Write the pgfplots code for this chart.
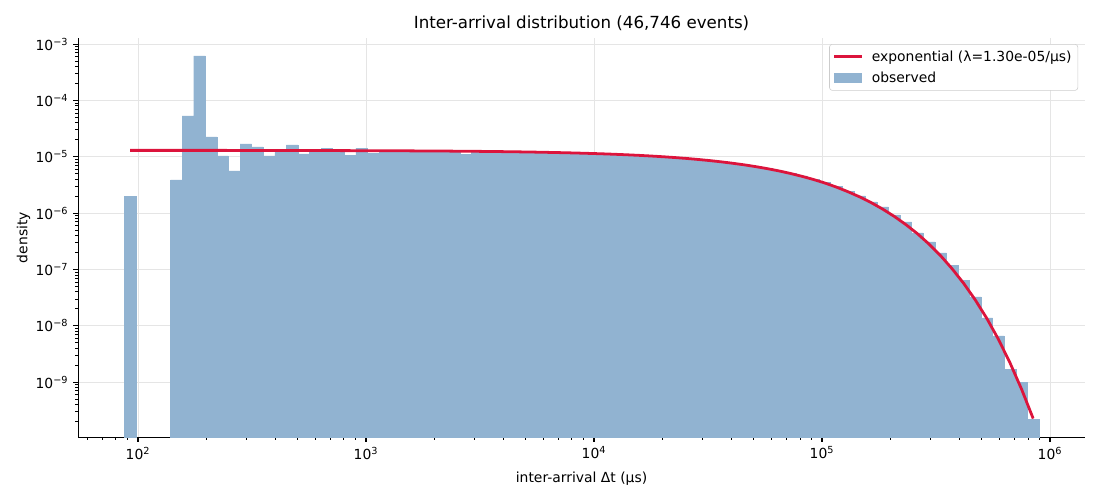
\documentclass[border=0pt]{standalone}
\usepackage{fontspec}
\setmainfont{DejaVu Sans}
\usepackage{pgfplots}
\pgfplotsset{compat=1.18}
\usetikzlibrary{calc}
\definecolor{barcol}{RGB}{145,179,209}
\definecolor{crim}{RGB}{220,20,60}
\begin{document}
\begin{tikzpicture}
\begin{axis}[
 name=ax,
 scale only axis, width=725pt, height=287.3pt,
 xmode=log, ymode=log, log origin=infty,
 xmin=54.6, xmax=1.424e6, ymin=1.06e-10, ymax=1.28e-3,
 axis x line*=bottom, axis y line*=left,
 axis line style={line width=0.8pt, -},
 tick align=outside,
 major tick length=3.5pt, minor tick length=2pt,
 every tick/.style={black, line width=0.8pt},
 minor tick style={line width=0.6pt},
 xtick={100,1000,10000,100000,1000000},
 xticklabels={10\textsuperscript{2},10\textsuperscript{3},10\textsuperscript{4},10\textsuperscript{5},10\textsuperscript{6}},
 minor xtick={60,70,80,90,200,300,400,500,600,700,800,900,2000,3000,4000,5000,6000,7000,8000,9000,20000,30000,40000,50000,60000,70000,80000,90000,200000,300000,400000,500000,600000,700000,800000,900000},
 ytick={1e-9,1e-8,1e-7,1e-6,1e-5,1e-4,1e-3},
 yticklabels={10\textsuperscript{−9},10\textsuperscript{−8},10\textsuperscript{−7},10\textsuperscript{−6},10\textsuperscript{−5},10\textsuperscript{−4},10\textsuperscript{−3}},
 minor ytick={2e-10,3e-10,4e-10,5e-10,6e-10,7e-10,8e-10,9e-10,2e-9,3e-9,4e-9,5e-9,6e-9,7e-9,8e-9,9e-9,2e-8,3e-8,4e-8,5e-8,6e-8,7e-8,8e-8,9e-8,2e-7,3e-7,4e-7,5e-7,6e-7,7e-7,8e-7,9e-7,2e-6,3e-6,4e-6,5e-6,6e-6,7e-6,8e-6,9e-6,2e-5,3e-5,4e-5,5e-5,6e-5,7e-5,8e-5,9e-5,2e-4,3e-4,4e-4,5e-4,6e-4,7e-4,8e-4,9e-4},
 grid=major, major grid style={line width=0.6pt, black!10},
 title={Inter-arrival distribution (46,746 events)},
 title style={font=\fontsize{12}{14}\selectfont, yshift=-4.5pt},
 xlabel={inter-arrival Δt (μs)},
 xlabel style={yshift=-2.3pt},
 ylabel={density},
 ylabel style={yshift=-3pt},
 tick label style={font=\fontsize{10}{12}\selectfont},
 label style={font=\fontsize{10}{12}\selectfont},
 legend style={at={(1,1)}, anchor=north east, xshift=-5pt, yshift=-4.3pt,
   draw=black!20, rounded corners=2pt, font=\fontsize{10}{12}\selectfont,
   inner sep=2.5pt, row sep=2pt},
 legend cell align=left,
]
\addplot[ybar interval, fill=barcol, draw=barcol, line width=0.3pt, forget plot] coordinates {
(87.08,2.0e-6) (97.88,2.0e-6)
};
\addplot[ybar interval, fill=barcol, draw=barcol, line width=0.3pt, forget plot] coordinates {
(139.00,3.9e-6) (156.24,5.3e-5) (175.62,6.2e-4) (197.41,2.26e-5) (221.89,1.04e-5)
(249.41,5.6e-6) (280.35,1.69e-5) (315.12,1.5e-5) (354.21,1.04e-5) (398.14,1.2e-5)
(447.53,1.62e-5) (503.04,1.13e-5) (565.43,1.26e-5) (635.57,1.43e-5) (714.40,1.26e-5)
(803.01,1.05e-5) (902.61,1.43e-5) (1014.6,1.14e-5) (1140.4,1.26e-5) (1281.9,1.26e-5)
(1440.9,1.19e-5) (1619.6,1.26e-5) (1820.5,1.26e-5) (2046.3,1.25e-5) (2300.1,1.24e-5)
(2585.4,1.1e-5) (2906.0,1.24e-5) (3266.5,1.23e-5) (3671.6,1.23e-5) (4127.1,1.22e-5)
(4639.0,1.21e-5) (5214.4,1.20e-5) (5861.1,1.19e-5) (6588.1,1.18e-5) (7405.3,1.17e-5)
(8323.8,1.15e-5) (9356.2,1.13e-5) (10517,1.11e-5) (11821,1.07e-5) (13287,1.07e-5)
(14936,1.05e-5) (16788,1.02e-5) (18870,9.95e-6) (21211,9.6e-6) (23842,9.3e-6)
(26799,8.9e-6) (30123,8.4e-6) (33860,8.1e-6) (38059,7.65e-6) (42780,7.2e-6)
(48086,6.7e-6) (54051,6.2e-6) (60755,5.65e-6) (68291,5.1e-6) (76761,4.58e-6)
(86282,4.03e-6) (96984,3.5e-6) (109014,2.95e-6) (122535,2.45e-6) (137734,2.02e-6)
(154818,1.58e-6) (174021,1.29e-6) (195605,9.3e-7) (219867,6.98e-7) (247139,4.45e-7)
(277793,3.09e-7) (312249,1.97e-7) (350979,1.2e-7) (394513,6.5e-8) (443447,3.25e-8)
(498449,1.38e-8) (560276,6.6e-9) (629769,1.71e-9) (707882,1.0e-9) (795685,2.2e-10)
(894379,2.2e-10)
};
\addplot[crim, line width=2pt, legend image code/.code={\path[draw=none] (0pt,0pt) -- (25pt,0pt);\draw[crim, line width=2pt, sharp corners] (0pt,0pt) -- (20pt,0pt);}] coordinates {
(92.32,1.2998e-5) (116.64,1.2998e-5) (147.37,1.2998e-5) (186.19,1.2997e-5) (235.25,1.2996e-5)
(297.23,1.2950e-5) (375.54,1.2937e-5) (474.47,1.2920e-5) (599.47,1.2899e-5) (757.41,1.2873e-5)
(956.95,1.2839e-5) (1209.1,1.2797e-5) (1527.6,1.2744e-5) (1717.1,1.271e-5) (1930.1,1.268e-5)
(2169.5,1.264e-5) (2438.6,1.259e-5) (2741.0,1.255e-5) (3081.0,1.249e-5) (3463.1,1.243e-5)
(3892.6,1.236e-5) (4375.5,1.228e-5) (4918.3,1.220e-5) (5528.3,1.210e-5) (6214.0,1.199e-5)
(6984.8,1.187e-5) (7851.1,1.174e-5) (8824.9,1.159e-5) (9919.4,1.143e-5) (11150,1.125e-5)
(12533,1.105e-5) (14087,1.083e-5) (15835,1.059e-5) (17799,1.032e-5) (20006,1.003e-5)
(22488,9.71e-6) (25277,9.37e-6) (28412,8.99e-6) (31936,8.59e-6) (35899,8.16e-6)
(40350,7.70e-6) (45355,7.22e-6) (50981,6.71e-6) (57305,6.18e-6) (64413,5.64e-6)
(72402,5.08e-6) (81382,4.52e-6) (91476,3.97e-6) (102822,3.43e-6) (115577,2.90e-6)
(129912,2.40e-6) (146026,1.95e-6) (164138,1.54e-6) (184497,1.18e-6) (207381,8.76e-7)
(233103,6.27e-7) (262017,4.32e-7) (294516,2.83e-7) (331046,1.76e-7) (372108,1.03e-7)
(418263,5.66e-8) (470142,2.88e-8) (528456,1.35e-8) (594005,5.76e-9) (667681,2.2e-9)
(750497,7.5e-10) (843586,2.26e-10)
};
\addlegendentry{exponential (λ=1.30e-05/μs)}
\addlegendimage{legend image code/.code={\path[draw=none] (0pt,0pt) -- (25pt,0pt);\fill[barcol, draw=none, sharp corners] (0pt,-3.4pt) rectangle (20pt,3.4pt);}}
\addlegendentry{observed}
\end{axis}
\path[use as bounding box] ($(ax.south west)+(-56.2pt,-45.4pt)$) rectangle ($(ax.north east)+(10.8pt,27.4pt)$);
\end{tikzpicture}
\end{document}
